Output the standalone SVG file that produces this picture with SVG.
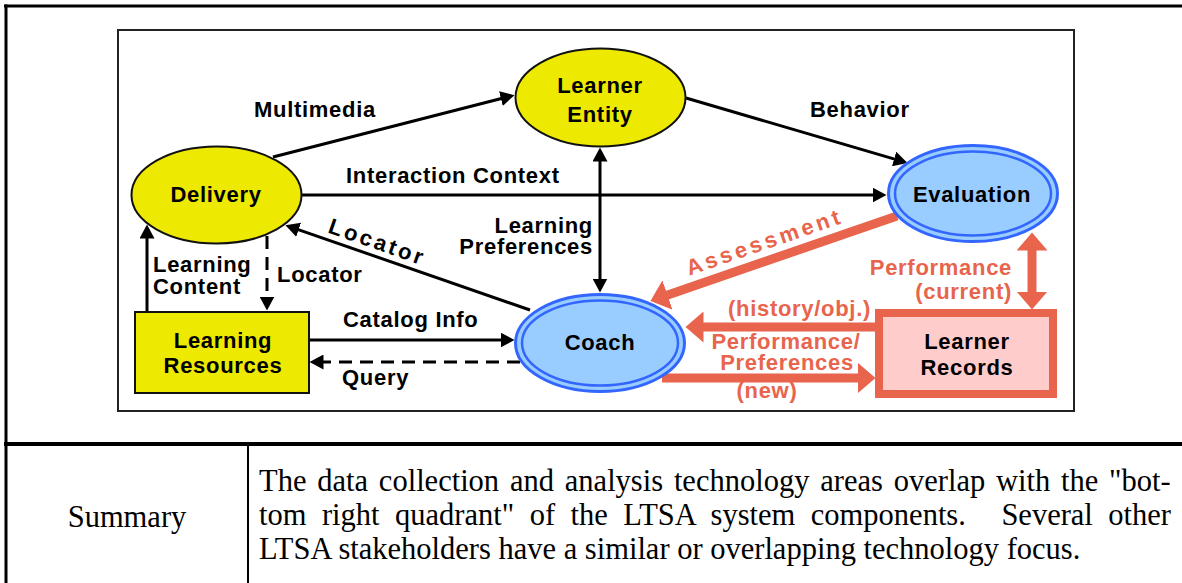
<svg xmlns="http://www.w3.org/2000/svg" width="1182" height="583" viewBox="0 0 1182 583">
<style>
.lbl{font-family:"Liberation Sans",Arial,Helvetica,sans-serif;font-weight:bold;font-size:22px;letter-spacing:0.7px;fill:#000}
.red{fill:#e8644d}
.mid{text-anchor:middle}
.end{text-anchor:end}
.yel{fill:#ede900;stroke:#111;stroke-width:2}
.blu{fill:#99ccff;stroke:#3366ff}
.con{fill:none;stroke:#000;stroke-width:3}
.dash{stroke-dasharray:13 8}
.rcon{fill:none;stroke:#e8644d;stroke-width:9}
.body{font-family:"Liberation Serif","Times New Roman",serif;font-size:30.5px;fill:#000}
</style>
<defs>
<marker id="ah" markerUnits="userSpaceOnUse" markerWidth="15" markerHeight="15" refX="0.5" refY="7.5" orient="auto-start-reverse" viewBox="0 0 15 15">
<path d="M0,0 L14,7.5 L0,15 z" fill="#000"/>
</marker>
<marker id="rh" markerUnits="userSpaceOnUse" markerWidth="19" markerHeight="31" refX="0.5" refY="15.5" orient="auto-start-reverse" viewBox="0 0 19 31">
<path d="M0,0 L18,15.5 L0,31 z" fill="#e8644d"/>
</marker>
</defs>
<rect x="0" y="0" width="1182" height="583" fill="#fff"/>
<g id="frame">
<line x1="4" y1="6" x2="1182" y2="6" stroke="#000" stroke-width="3"/>
<line x1="6" y1="4.5" x2="6" y2="583" stroke="#000" stroke-width="3"/>
<line x1="4" y1="444" x2="1182" y2="444" stroke="#000" stroke-width="4"/>
<line x1="248" y1="444" x2="248" y2="583" stroke="#000" stroke-width="2"/>
<rect x="118" y="30" width="956" height="381" fill="none" stroke="#222" stroke-width="2"/>
</g>
<g id="connectors">
<line class="con" x1="273" y1="157" x2="501.4" y2="98.5" marker-end="url(#ah)"/>
<line class="con" x1="686" y1="98" x2="894.6" y2="159.1" marker-end="url(#ah)"/>
<line class="con" x1="302" y1="195" x2="873" y2="195" marker-end="url(#ah)"/>
<line class="con" x1="600" y1="161" x2="600" y2="279" marker-start="url(#ah)" marker-end="url(#ah)"/>
<line class="con" x1="530" y1="310" x2="298.2" y2="229.6" marker-end="url(#ah)"/>
<line class="con" x1="309" y1="340" x2="501" y2="340" marker-end="url(#ah)"/>
<line class="con dash" x1="520" y1="362" x2="323" y2="362" marker-end="url(#ah)"/>
<line class="con" x1="147" y1="312" x2="147" y2="238" marker-end="url(#ah)"/>
<line class="con dash" x1="267" y1="236" x2="267" y2="297" stroke-dasharray="12 8" marker-end="url(#ah)"/>
<line class="rcon" x1="897" y1="216" x2="667" y2="295.2" marker-end="url(#rh)"/>
<line class="rcon" x1="1032" y1="250" x2="1032" y2="292" marker-start="url(#rh)" marker-end="url(#rh)"/>
<line class="rcon" x1="875" y1="327" x2="703" y2="327" marker-end="url(#rh)"/>
<line class="rcon" x1="662" y1="378" x2="858" y2="378" marker-end="url(#rh)"/>
<text class="lbl" x="254" y="117">Multimedia</text>
<text class="lbl" x="810" y="117">Behavior</text>
<text class="lbl" x="346" y="183">Interaction Context</text>
<text class="lbl end" x="593" y="233">Learning</text>
<text class="lbl end" x="593" y="254">Preferences</text>
<text class="lbl" x="153" y="272">Learning</text>
<text class="lbl" x="153" y="294">Content</text>
<text class="lbl" x="277" y="282">Locator</text>
<text class="lbl" x="343" y="327">Catalog Info</text>
<text class="lbl" x="342" y="385">Query</text>
<text class="lbl mid" x="375" y="249" style="letter-spacing:3px" transform="rotate(19.2 375 249)">Locator</text>
<text class="lbl red mid" x="767" y="249" style="letter-spacing:3.5px" transform="rotate(-19 767 249)">Assessment</text>
<text class="lbl red end" x="1012" y="275">Performance</text>
<text class="lbl red end" x="1012" y="299">(current)</text>
<text class="lbl red" x="728" y="316">(history/obj.)</text>
<text class="lbl red mid" x="786" y="349">Performance/</text>
<text class="lbl red mid" x="787" y="370">Preferences</text>
<text class="lbl red mid" x="767" y="398">(new)</text>
</g>
<g id="learner-entity">
<ellipse class="yel" cx="600.5" cy="97.5" rx="85" ry="49"/>
<text class="lbl mid" x="600" y="93">Learner</text>
<text class="lbl mid" x="600" y="122">Entity</text>
</g>
<g id="delivery">
<ellipse class="yel" cx="216.5" cy="195" rx="85" ry="48.5"/>
<text class="lbl mid" x="216" y="202">Delivery</text>
</g>
<g id="evaluation">
<ellipse class="blu" cx="973" cy="193.5" rx="84.5" ry="48" stroke-width="3"/>
<ellipse class="blu" cx="973" cy="193.5" rx="78" ry="42" stroke-width="2.5"/>
<text class="lbl mid" x="972" y="202">Evaluation</text>
</g>
<g id="coach">
<ellipse class="blu" cx="600" cy="343" rx="84.5" ry="48.5" stroke-width="3"/>
<ellipse class="blu" cx="600" cy="343" rx="78" ry="42.5" stroke-width="2.5"/>
<text class="lbl mid" x="600" y="350">Coach</text>
</g>
<g id="learning-resources">
<rect class="yel" x="135" y="312" width="174" height="81"/>
<text class="lbl mid" x="223" y="348">Learning</text>
<text class="lbl mid" x="223" y="373">Resources</text>
</g>
<g id="learner-records">
<rect x="879" y="313" width="174" height="81" fill="#ffcccc" stroke="#e8644d" stroke-width="8"/>
<text class="lbl mid" x="967" y="349">Learner</text>
<text class="lbl mid" x="967" y="375">Records</text>
</g>
<g id="summary">
<text class="body mid" x="127" y="527">Summary</text>
<text class="body" x="259" y="491" word-spacing="3.2">The data collection and analysis technology areas overlap with the "bot-</text>
<text class="body" x="259" y="525" word-spacing="7.87">tom right quadrant" of the LTSA system components.</text>
<text class="body end" x="1171" y="525" word-spacing="7.87">Several other</text>
<text class="body" x="259" y="559">LTSA stakeholders have a similar or overlapping technology focus.</text>
</g>
</svg>
